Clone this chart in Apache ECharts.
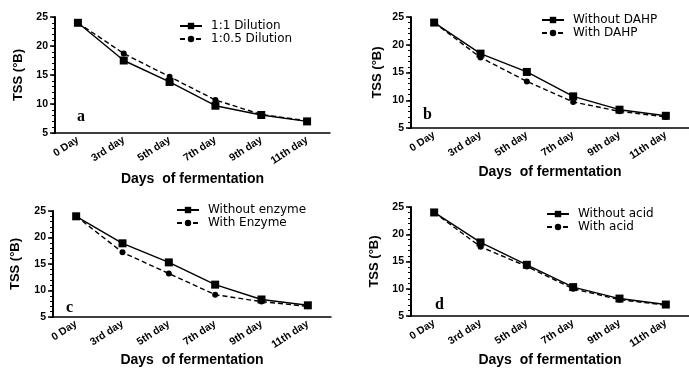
<!DOCTYPE html>
<html>
<head>
<meta charset="utf-8">
<script src="https://cdn.jsdelivr.net/npm/echarts@6/dist/echarts.min.js"></script>
<style>
  html, body { margin: 0; padding: 0; background: #fff; }
  #chart { width: 689px; height: 368px; }
</style>
</head>
<body>
<div id="chart"></div>
<script>
// categories on every panel
var days = ['0 Day', '3rd day', '5th day', '7th day', '9th day', '11th day']
var yTicks = [5, 10, 15, 20, 25]

// panel a
var dil11 = [24, 17.5, 13.8, 9.7, 8.1, 7.0]
var dil105 = [24, 18.7, 14.7, 10.7, 8.2, 7.1]
// panel b
var noDahp = [24, 18.4, 15.1, 10.7, 8.3, 7.2]
var withDahp = [24, 17.7, 13.4, 9.7, 8.0, 7.0]
// panel c
var noEnzyme = [24, 18.9, 15.3, 11.1, 8.3, 7.2]
var withEnzyme = [24, 17.2, 13.2, 9.2, 7.9, 7.0]
// panel d
var noAcid = [24, 18.5, 14.4, 10.3, 8.2, 7.1]
var withAcid = [24, 17.7, 14.1, 10.0, 8.0, 7.0]

var panels = [
  { letter: 'a', names: ['1:1 Dilution', '1:0.5 Dilution'], data: [dil11, dil105],
    grid: { left: 55, top: 17, width: 275, height: 116 },
    legend: { left: 179, top: 20 }, letterPos: [77, 109], nameY: 179, yNameGap: 30 },
  { letter: 'b', names: ['Without DAHP', 'With DAHP'], data: [noDahp, withDahp],
    grid: { left: 411, top: 17, width: 282, height: 111 },
    legend: { left: 541, top: 14 }, letterPos: [423, 107], nameY: 172, yNameGap: 27 },
  { letter: 'c', names: ['Without enzyme', 'With Enzyme'], data: [noEnzyme, withEnzyme],
    grid: { left: 53, top: 211, width: 278, height: 108 },
    legend: { left: 176, top: 204 }, letterPos: [66, 300], nameY: 361, yNameGap: 31 },
  { letter: 'd', names: ['Without acid', 'With acid'], data: [noAcid, withAcid],
    grid: { left: 411, top: 207, width: 282, height: 113 },
    legend: { left: 546, top: 208 }, letterPos: [435, 297], nameY: 364, yNameGap: 30 }
]

var grids = [], xAxes = [], yAxes = [], series = [], legends = [], texts = []
var yMin = yTicks[0], yMax = yTicks[yTicks.length - 1]

panels.forEach(function (p, i) {
  grids.push(p.grid)
  xAxes.push({
    type: 'category', gridIndex: i, data: days,
    boundaryGap: true,
    name: 'Days  of fermentation', nameLocation: 'middle',
    nameGap: p.nameY - p.grid.top - p.grid.height - 7,
    nameTextStyle: { fontFamily: 'Liberation Sans', fontWeight: 'bold', fontSize: 14, color: '#000' },
    axisLine: { lineStyle: { color: '#000', width: 1.5 } },
    axisTick: { alignWithLabel: true, length: 4, lineStyle: { color: '#000', width: 1.5 } },
    axisLabel: { rotate: 33, color: '#000', fontFamily: 'Liberation Sans', fontWeight: 'bold',
      fontSize: 10.5, margin: 6, interval: 0 },
    splitLine: { show: false }
  })
  yAxes.push({
    type: 'value', gridIndex: i, min: yMin, max: yMax, interval: 5,
    name: 'TSS (°B)', nameLocation: 'middle', nameGap: p.yNameGap,
    nameTextStyle: { fontFamily: 'Liberation Sans', fontWeight: 'bold', fontSize: 13, color: '#000' },
    axisLine: { show: true, lineStyle: { color: '#000', width: 2 } },
    axisTick: { show: true, length: 5, lineStyle: { color: '#000', width: 1.5 } },
    axisLabel: { color: '#000', fontFamily: 'Liberation Sans', fontWeight: 'bold', fontSize: 10.5, margin: 7 },
    splitLine: { show: false }
  })
  series.push({
    name: p.names[0], type: 'line', xAxisIndex: i, yAxisIndex: i, data: p.data[0],
    symbol: 'rect', symbolSize: 8,
    itemStyle: { color: '#000' },
    lineStyle: { color: '#000', width: 1.4, type: 'solid' }
  })
  series.push({
    name: p.names[1], type: 'line', xAxisIndex: i, yAxisIndex: i, data: p.data[1],
    symbol: 'circle', symbolSize: 6,
    itemStyle: { color: '#000' },
    lineStyle: { color: '#000', width: 1.4, type: [5, 3] }
  })
  legends.push({
    data: p.names, orient: 'vertical', left: p.legend.left, top: p.legend.top,
    padding: 0, itemWidth: 22, itemHeight: 8, itemGap: 1,
    textStyle: { color: '#000', fontFamily: 'DejaVu Sans', fontSize: 12, padding: [0, 0, 0, 4] }
  })
  texts.push({
    type: 'text', left: p.letterPos[0], top: p.letterPos[1],
    style: { text: p.letter, font: 'bold 16px "Liberation Serif"', fill: '#000' }
  })
})

// minor ticks: a second, unlabeled y axis on each grid, ticking every 1
panels.forEach(function (p, i) {
  yAxes.push({
    type: 'value', gridIndex: i, min: yMin, max: yMax, interval: 1, position: 'left',
    axisLine: { show: false },
    axisTick: { show: true, length: 3, lineStyle: { color: '#000', width: 1 } },
    axisLabel: { show: false },
    splitLine: { show: false }
  })
})

var chart = echarts.init(document.getElementById('chart'))
chart.setOption({
  animation: false,
  backgroundColor: '#fff',
  grid: grids,
  xAxis: xAxes,
  yAxis: yAxes,
  legend: legends,
  series: series,
  graphic: texts
})
</script>
</body>
</html>
